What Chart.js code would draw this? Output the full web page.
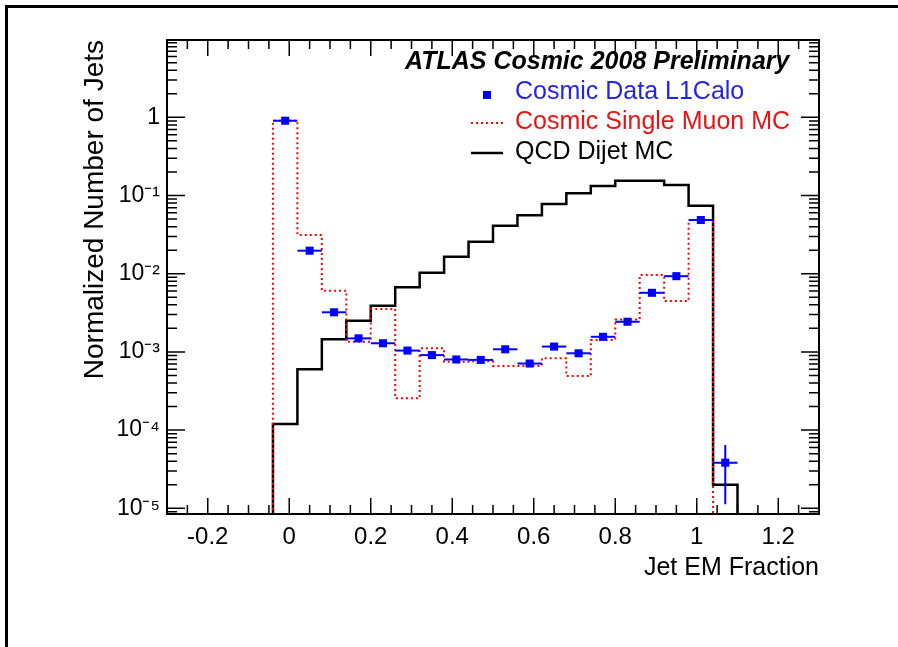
<!DOCTYPE html>
<html lang="en">
<head>
<meta charset="UTF-8">
<title>Jet EM Fraction - ATLAS Cosmic 2008</title>
<script src="https://cdn.jsdelivr.net/npm/chart.js@4.4.0/dist/chart.umd.min.js"></script>
<style>
    * { margin: 0; padding: 0; box-sizing: border-box; }
    body { background: #fff; width: 898px; height: 647px; overflow: hidden; position: relative; }
    .frame { position: absolute; left: 5px; top: 5px; right: 0; bottom: 0; border-top: 3px solid #000; border-left: 3px solid #000; }
    canvas { position: absolute; left: 0; top: 0; }
</style>
</head>
<body>
<div class="frame"></div>
<canvas id="jetChart" width="898" height="647"></canvas>
<script>
// histogram bin edges (Jet EM Fraction)
const binEdges = [-0.04, 0.02, 0.08, 0.14, 0.20, 0.26, 0.32, 0.38, 0.44, 0.50,
                  0.56, 0.62, 0.68, 0.74, 0.80, 0.86, 0.92, 0.98, 1.04, 1.10];

// one value per bin
const qcdDijetMC = [1.2e-4, 6.0e-4, 1.45e-3, 2.5e-3, 3.9e-3, 6.7e-3, 1.03e-2, 1.65e-2, 2.56e-2, 4.1e-2,
                    5.6e-2, 7.8e-2, 0.107, 0.132, 0.155, 0.155, 0.136, 0.074, 2.0e-5];
const cosmicMuonMC = [0.905, 3.13e-2, 6.07e-3, 1.35e-3, 3.54e-3, 2.55e-4, 1.11e-3, 7.5e-4, 7.6e-4, 6.6e-4,
                      6.6e-4, 8.3e-4, 4.9e-4, 1.42e-3, 2.6e-3, 9.6e-3, 4.48e-3, 4.86e-2, 0];
const cosmicData = [0.905, 1.97e-2, 3.21e-3, 1.49e-3, 1.29e-3, 1.04e-3, 9.1e-4, 8.0e-4, 7.9e-4, 1.08e-3,
                    7.1e-4, 1.17e-3, 9.6e-4, 1.56e-3, 2.43e-3, 5.7e-3, 9.3e-3, 4.86e-2, 3.83e-5];
const cosmicDataErrUp = [0, 0, 0, 0, 0, 0, 0, 0, 0, 0, 0, 0, 0, 0, 0, 0, 0, 0, 2.6e-5];
const cosmicDataErrDown = [0, 0, 0, 0, 0, 0, 0, 0, 0, 0, 0, 0, 0, 0, 0, 0, 0, 0, 2.7e-5];

const xTickValues = [-0.2, 0, 0.2, 0.4, 0.6, 0.8, 1, 1.2];
const xTickLabels = ['-0.2', '0', '0.2', '0.4', '0.6', '0.8', '1', '1.2'];
const yTickValues = [1e-5, 1e-4, 1e-3, 1e-2, 1e-1, 1];
const yTickLabels = ['10\u207B\u2075', '10\u207B\u2074', '10\u207B\u00B3', '10\u207B\u00B2', '10\u207B\u00B9', '1'];
const legendTitle = 'ATLAS Cosmic 2008 Preliminary';

const FONT = "'Liberation Sans', Arial, Helvetica, sans-serif";
const FLOOR = 1e-7; // below the axis, so the histogram edges run to the bottom

Chart.defaults.font.family = FONT;
Chart.defaults.color = '#000';

// turn bin contents into a stepped outline
function histSteps(values) {
    const pts = [{x: binEdges[0], y: FLOOR}];
    values.forEach((v, i) => pts.push({x: binEdges[i], y: v > 0 ? v : FLOOR}));
    pts.push({x: binEdges[values.length], y: FLOOR});
    return pts;
}

// x and y error bars for the data points
const errorBars = {
    id: 'errorBars',
    beforeDatasetDraw(chart, args) {
        if (args.index !== 0) return;
        const {ctx, scales: {x, y}} = chart;
        ctx.save();
        ctx.strokeStyle = '#0000ff';
        ctx.lineWidth = 2;
        cosmicData.forEach((v, i) => {
            const py = y.getPixelForValue(v);
            ctx.beginPath();
            ctx.moveTo(x.getPixelForValue(binEdges[i]), py);
            ctx.lineTo(x.getPixelForValue(binEdges[i + 1]), py);
            if (cosmicDataErrUp[i] > 0) {
                const px = x.getPixelForValue((binEdges[i] + binEdges[i + 1]) / 2);
                ctx.moveTo(px, y.getPixelForValue(v + cosmicDataErrUp[i]));
                ctx.lineTo(px, y.getPixelForValue(v - cosmicDataErrDown[i]));
            }
            ctx.stroke();
        });
        ctx.restore();
    }
};

// ROOT style box with inward ticks on all four sides
const rootFrame = {
    id: 'rootFrame',
    afterDatasetsDraw(chart) {
        const {ctx, chartArea: a, scales: {x, y}} = chart;
        ctx.save();
        ctx.strokeStyle = '#000';
        ctx.lineWidth = 1.5;
        ctx.beginPath();
        for (let k = -6; k <= 26; k++) {
            const px = x.getPixelForValue(k * 0.05);
            const len = k % 4 === 0 ? 16 : 9;
            ctx.moveTo(px, a.bottom); ctx.lineTo(px, a.bottom - len);
            ctx.moveTo(px, a.top); ctx.lineTo(px, a.top + len);
        }
        for (let e = -6; e <= 1; e++) {
            for (let m = 1; m <= 9; m++) {
                const v = m * Math.pow(10, e);
                if (v < y.min || v > y.max) continue;
                const py = y.getPixelForValue(v);
                const len = m === 1 ? 18 : 10;
                ctx.moveTo(a.left, py); ctx.lineTo(a.left + len, py);
                ctx.moveTo(a.right, py); ctx.lineTo(a.right - len, py);
            }
        }
        ctx.stroke();
        ctx.lineWidth = 2;
        ctx.strokeRect(a.left, a.top, a.right - a.left, a.bottom - a.top);
        ctx.restore();
    }
};

// legend box inside the plot
const legendBox = {
    id: 'legendBox',
    afterDraw(chart) {
        const {ctx} = chart;
        const ds = chart.data.datasets;
        ctx.save();
        ctx.textAlign = 'left';
        ctx.textBaseline = 'middle';
        ctx.fillStyle = '#000';
        ctx.font = 'italic bold 25px ' + FONT;
        ctx.fillText(legendTitle, 405, 62);

        ctx.font = '25px ' + FONT;
        const rows = [92, 122, 152];
        ds.forEach((d, i) => {
            const yy = rows[i];
            ctx.fillStyle = d.textColor;
            ctx.fillText(d.label, 515, yy);
            if (i === 0) {
                ctx.fillStyle = d.backgroundColor;
                ctx.fillRect(483, yy - 1, 8, 8);
            } else {
                ctx.strokeStyle = d.borderColor;
                ctx.lineWidth = d.borderWidth;
                ctx.setLineDash(d.borderDash || []);
                ctx.beginPath();
                ctx.moveTo(471, yy + 1);
                ctx.lineTo(503, yy + 1);
                ctx.stroke();
                ctx.setLineDash([]);
            }
        });
        ctx.restore();
    }
};

new Chart(document.getElementById('jetChart'), {
    type: 'scatter',
    data: {
        datasets: [
            {
                label: 'Cosmic Data L1Calo',
                data: cosmicData.map((v, i) => ({x: (binEdges[i] + binEdges[i + 1]) / 2, y: v})),
                pointStyle: 'rect',
                pointRadius: 5.7,
                pointHoverRadius: 5.7,
                backgroundColor: '#0000ff',
                borderColor: '#0000ff',
                borderWidth: 0,
                textColor: '#2424e6',
                showLine: false,
                order: 0
            },
            {
                label: 'Cosmic Single Muon MC',
                data: histSteps(cosmicMuonMC),
                showLine: true,
                stepped: 'before',
                borderColor: '#ff0000',
                borderWidth: 2,
                borderDash: [2, 3],
                textColor: '#e81414',
                pointRadius: 0,
                order: 1
            },
            {
                label: 'QCD Dijet MC',
                data: histSteps(qcdDijetMC),
                showLine: true,
                stepped: 'before',
                borderColor: '#000000',
                borderWidth: 2.5,
                textColor: '#000000',
                pointRadius: 0,
                order: 2
            }
        ]
    },
    options: {
        responsive: false,
        animation: false,
        layout: {padding: {top: 40, right: 79, bottom: 0, left: 0}},
        plugins: {
            legend: {display: false},
            tooltip: {enabled: false}
        },
        scales: {
            x: {
                type: 'linear',
                min: -0.3,
                max: 1.3,
                bounds: 'data',
                grid: {display: false, drawTicks: false},
                border: {display: false},
                ticks: {
                    autoSkip: false,
                    maxRotation: 0,
                    padding: 9,
                    font: {size: 24},
                    callback: (v, i) => xTickLabels[i]
                },
                afterBuildTicks: s => { s.ticks = xTickValues.map(v => ({value: v})); },
                afterFit: s => { s.height = 133; },
                title: {
                    display: true,
                    text: 'Jet EM Fraction',
                    align: 'end',
                    font: {size: 25},
                    padding: {top: 0, bottom: 64}
                }
            },
            y: {
                type: 'logarithmic',
                min: 8.45e-6,
                max: 9.75,
                bounds: 'data',
                grid: {display: false, drawTicks: false},
                border: {display: false},
                ticks: {
                    autoSkip: false,
                    padding: 7,
                    font: {size: 23},
                    callback: (v, i) => yTickLabels[i]
                },
                afterBuildTicks: s => { s.ticks = yTickValues.map(v => ({value: v})); },
                afterFit: s => { s.width = 167; },
                title: {
                    display: true,
                    text: 'Normalized Number of Jets',
                    align: 'end',
                    font: {size: 28},
                    padding: {top: 78, bottom: 0}
                }
            }
        }
    },
    plugins: [errorBars, rootFrame, legendBox]
});
</script>
</body>
</html>
